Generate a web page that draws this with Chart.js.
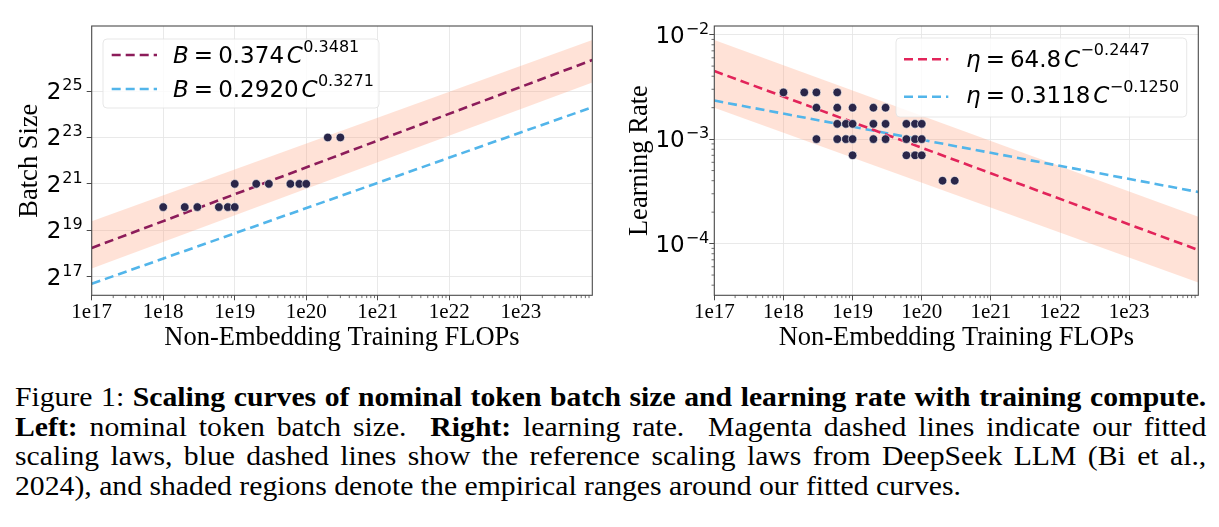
<!DOCTYPE html>
<html>
<head>
<meta charset="utf-8">
<script src="https://cdn.jsdelivr.net/npm/chart.js@4.4.1/dist/chart.umd.min.js"></script>
<style>
  body { margin: 0; background: #fff; width: 1219px; height: 527px; overflow: hidden; position: relative; }
  .panel { position: absolute; top: 0; height: 360px; }
  #leftPanel { left: 0; width: 610px; }
  #rightPanel { left: 610px; width: 609px; }
  #caption { position: absolute; left: 15px; top: 383px; width: 1083px; font-family: "Liberation Serif", serif; font-size: 27px; line-height: 29.5px; color: #000; transform: scaleX(1.1); transform-origin: 0 0; }
  #caption .ln { text-align: justify; text-align-last: justify; word-spacing: -3px; }
  #caption .last { text-align: left; }
</style>
</head>
<body>
<div class="panel" id="leftPanel"><canvas id="chart-bs" width="610" height="360"></canvas></div>
<div class="panel" id="rightPanel"><canvas id="chart-lr" width="609" height="360"></canvas></div>
<div id="caption">
  <div class="ln">Figure 1: <b>Scaling curves of nominal token batch size and learning rate with training compute.</b></div>
  <div class="ln"><b>Left:</b> nominal token batch size. &nbsp;<b>Right:</b> learning rate. &nbsp;Magenta dashed lines indicate our fitted</div>
  <div class="ln">scaling laws, blue dashed lines show the reference scaling laws from DeepSeek LLM (Bi et al.,</div>
  <div class="last">2024), and shaded regions denote the empirical ranges around our fitted curves.</div>
</div>
<script>
// x axis (shared)
const flopTicks = [1e17, 1e18, 1e19, 1e20, 1e21, 1e22, 1e23];
const flopTickLabels = ["1e17", "1e18", "1e19", "1e20", "1e21", "1e22", "1e23"];
const lineEnds = [1e17, 1e24];

// left: batch size
const bsFlops = [1e18, 2e18, 3e18, 6e18, 8e18, 1e19, 1e19, 2e19, 3e19, 6e19, 8e19, 1e20, 2e20, 3e20];
const bsValues = [1048576, 1048576, 1048576, 1048576, 1048576, 1048576, 2097152, 2097152, 2097152, 2097152, 2097152, 2097152, 8388608, 8388608];
const bsTicks = [131072, 524288, 2097152, 8388608, 33554432];
const bsTickExp = ["17", "19", "21", "23", "25"];
const bsLegendCoef = ["0.374", "0.2920"];
const bsLegendExp = ["0.3481", "0.3271"];
const bsBandUpper = [6.87e5, 1.54e8];
const bsBandLower = [1.68e5, 4.31e7];

// right: learning rate
const lrFlops = [1e18, 2e18, 3e18, 6e18,
  3e18, 6e18, 1e19, 2e19, 3e19,
  6e18, 8e18, 1e19, 2e19, 3e19, 6e19, 8e19, 1e20,
  3e18, 6e18, 8e18, 1e19, 2e19, 3e19, 6e19, 8e19, 1e20,
  1e19, 6e19, 8e19, 1e20,
  2e20, 3e20];
const lrValues = [2.8e-3, 2.8e-3, 2.8e-3, 2.8e-3,
  2e-3, 2e-3, 2e-3, 2e-3, 2e-3,
  1.4e-3, 1.4e-3, 1.4e-3, 1.4e-3, 1.4e-3, 1.4e-3, 1.4e-3, 1.4e-3,
  1e-3, 1e-3, 1e-3, 1e-3, 1e-3, 1e-3, 1e-3, 1e-3, 1e-3,
  7e-4, 7e-4, 7e-4, 7e-4,
  4e-4, 4e-4];
const lrTicks = [1e-4, 1e-3, 1e-2];
const lrTickExp = ["\u22124", "\u22123", "\u22122"];
const lrLegendCoef = ["64.8", "0.3118"];
const lrLegendExp = ["\u22120.2447", "\u22120.1250"];
const lrBandUpper = [8.9e-3, 1.81e-4];
const lrBandLower = [2.0e-3, 4.24e-5];

const BLUE = "#52b5ea";
const BAND = "rgba(255,160,122,0.3)";
const DOT = "#2a2649";
const SANS = '"DejaVu Sans"';
const SERIF = '"Liberation Serif"';

const num = s => parseFloat(s.replace("\u2212", "-"));
const fitLine = (c, e) => lineEnds.map(x => ({ x: x, y: num(c) * Math.pow(x, num(e)) }));
const pts = (xs, ys) => xs.map((x, i) => ({ x: x, y: ys[i] }));

function makeDatasets(flops, vals, coefs, exps, up, low, mainColor) {
  return [
    { data: pts(flops, vals), backgroundColor: DOT, borderColor: "#fff", borderWidth: 0.6, pointRadius: 4.3 },
    { data: fitLine(coefs[0], exps[0]), showLine: true, borderColor: mainColor, borderWidth: 2.6, borderDash: [9, 5], pointRadius: 0 },
    { data: fitLine(coefs[1], exps[1]), showLine: true, borderColor: BLUE, borderWidth: 2.6, borderDash: [9, 5], pointRadius: 0 },
    { data: pts(lineEnds, up), showLine: true, borderWidth: 0, pointRadius: 0, backgroundColor: BAND, fill: "+1" },
    { data: pts(lineEnds, low), showLine: true, borderWidth: 0, pointRadius: 0, backgroundColor: "rgba(0,0,0,0)", fill: false },
  ];
}

// legend, frame, minor ticks and power tick labels
function decorPlugin(cfg) {
  return {
    id: "decor",
    afterDatasetsDraw(chart) {
      const ctx = chart.ctx;
      const L = cfg.legend;
      ctx.save();
      ctx.beginPath();
      ctx.roundRect(L.box[0], L.box[1], L.box[2] - L.box[0], L.box[3] - L.box[1], 4);
      ctx.fillStyle = "rgba(255,255,255,0.8)";
      ctx.fill();
      ctx.strokeStyle = "rgba(225,225,225,0.8)";
      ctx.lineWidth = 1;
      ctx.stroke();
      L.rows.forEach((r, i) => {
        ctx.setLineDash([9, 5]);
        ctx.lineWidth = 2.6;
        ctx.strokeStyle = r.color;
        ctx.beginPath();
        ctx.moveTo(L.lineX[0], r.lineY);
        ctx.lineTo(L.lineX[1], r.lineY);
        ctx.stroke();
        ctx.setLineDash([]);
        ctx.fillStyle = "#000";
        ctx.textBaseline = "alphabetic";
        ctx.textAlign = "left";
        const parts = [
          { t: L.sym, it: true },
          { t: "=", g: 0.22 },
          { t: r.coef, g: 0.22 },
          { t: "C", it: true, g: 0.12 },
          { t: r.exp, sup: true, g: 0.02 },
        ];
        let x = L.textX;
        parts.forEach(p => {
          const size = p.sup ? L.supSize : L.size;
          ctx.font = (p.it ? "italic " : "") + size + "px " + SANS;
          x += (p.g || 0) * L.size;
          ctx.fillText(p.t, x, p.sup ? r.base - L.raise : r.base);
          x += ctx.measureText(p.t).width;
        });
      });
      ctx.restore();
    },
    afterDraw(chart) {
      const ctx = chart.ctx;
      const a = chart.chartArea;
      const xs = chart.scales.x, ys = chart.scales.y;
      ctx.save();
      ctx.strokeStyle = "#4a4a4a";
      ctx.lineWidth = 0.8;
      // minor ticks on x
      for (let d = 17; d < 24; d++) {
        for (let k = 2; k <= 9; k++) {
          const px = xs.getPixelForValue(k * Math.pow(10, d));
          ctx.beginPath();
          ctx.moveTo(px, a.bottom);
          ctx.lineTo(px, a.bottom + 2.8);
          ctx.stroke();
        }
      }
      if (cfg.minorY) {
        for (let d = -5; d < -1; d++) {
          for (let k = 2; k <= 9; k++) {
            const v = k * Math.pow(10, d);
            if (v < ys.min || v > ys.max) continue;
            const py = ys.getPixelForValue(v);
            ctx.beginPath();
            ctx.moveTo(a.left, py);
            ctx.lineTo(a.left - 2.8, py);
            ctx.stroke();
          }
        }
      }
      // frame
      ctx.lineWidth = 1.1;
      ctx.strokeRect(a.left, a.top, a.right - a.left, a.bottom - a.top);
      // y tick labels with superscripts
      ctx.fillStyle = "#000";
      ctx.textBaseline = "alphabetic";
      ctx.textAlign = "left";
      cfg.yTicks.forEach((v, i) => {
        const py = ys.getPixelForValue(v);
        ctx.font = cfg.supSize + "px " + SANS;
        const ws = ctx.measureText(cfg.yExp[i]).width;
        ctx.font = cfg.baseSize + "px " + SANS;
        const wb = ctx.measureText(cfg.yBase).width;
        const x0 = a.left - cfg.labelGap - ws - wb;
        ctx.fillText(cfg.yBase, x0, py + 8);
        ctx.font = cfg.supSize + "px " + SANS;
        ctx.fillText(cfg.yExp[i], x0 + wb + 1, py - 1);
      });
      ctx.restore();
    },
  };
}

function makeChart(id, datasets, yMin, yMax, yTicks, yTitle, yWidth, rightPad, decor) {
  return new Chart(document.getElementById(id), {
    type: "scatter",
    data: { datasets: datasets },
    options: {
      responsive: false,
      animation: false,
      layout: { padding: { top: 26, right: rightPad, left: 0, bottom: 0 } },
      plugins: { legend: { display: false }, tooltip: { enabled: false } },
      scales: {
        x: {
          type: "logarithmic",
          min: 1e17,
          max: 1e24,
          afterBuildTicks: s => { s.ticks = flopTicks.map(v => ({ value: v })); },
          afterFit: s => { s.height = 64.7; },
          ticks: {
            autoSkip: false, maxRotation: 0, padding: 0, color: "#000",
            font: { family: SERIF, size: 21, lineHeight: 1.2 },
            callback: (v) => flopTickLabels[flopTicks.indexOf(v)],
          },
          grid: { color: "#e6e6e6", lineWidth: 0.9, tickLength: 5, tickColor: "#4a4a4a", tickWidth: 1 },
          border: { display: false },
          title: { display: true, text: "Non-Embedding Training FLOPs", color: "#000", font: { family: SERIF, size: 26.5, lineHeight: 1.2 }, padding: { top: 0, bottom: 6 } },
        },
        y: {
          type: "logarithmic",
          min: yMin,
          max: yMax,
          afterBuildTicks: s => { s.ticks = yTicks.map(v => ({ value: v })); },
          afterFit: s => { s.width = yWidth; },
          ticks: { display: false },
          grid: { color: "#e6e6e6", lineWidth: 0.9, tickLength: 5, tickColor: "#4a4a4a", tickWidth: 1 },
          border: { display: false },
          title: { display: true, text: yTitle, color: "#000", font: { family: SERIF, size: 26.5, lineHeight: 1.2 }, padding: { top: 14, bottom: 0 } },
        },
      },
    },
    plugins: [decorPlugin(decor)],
  });
}

makeChart("chart-bs",
  makeDatasets(bsFlops, bsValues, bsLegendCoef, bsLegendExp, bsBandUpper, bsBandLower, "#8c1c5a"),
  7.53e4, 2.337e8, bsTicks, "Batch Size", 91.7, 17.7,
  {
    yTicks: bsTicks, yExp: bsTickExp, yBase: "2", baseSize: 23, supSize: 16, labelGap: 10, minorY: false,
    legend: {
      box: [103, 39, 379, 108], lineX: [111.7, 157], textX: 173, sym: "B", size: 23, supSize: 16, raise: 11.5,
      rows: [
        { color: "#8c1c5a", lineY: 55, base: 63.3, coef: bsLegendCoef[0], exp: bsLegendExp[0] },
        { color: BLUE, lineY: 89, base: 97, coef: bsLegendCoef[1], exp: bsLegendExp[1] },
      ],
    },
  });

makeChart("chart-lr",
  makeDatasets(lrFlops, lrValues, lrLegendCoef, lrLegendExp, lrBandUpper, lrBandLower, "#e2245a"),
  3.2e-5, 1.21e-2, lrTicks, "Learning Rate", 104.3, 20.7,
  {
    yTicks: lrTicks, yExp: lrTickExp, yBase: "10", baseSize: 23, supSize: 16, labelGap: 6, minorY: true,
    legend: {
      box: [286, 38, 576.7, 117], lineX: [294, 338.3], textX: 356, sym: "\u03b7", size: 23, supSize: 16, raise: 11.5,
      rows: [
        { color: "#e2245a", lineY: 59.3, base: 66.7, coef: lrLegendCoef[0], exp: lrLegendExp[0] },
        { color: BLUE, lineY: 96.7, base: 103.3, coef: lrLegendCoef[1], exp: lrLegendExp[1] },
      ],
    },
  });
</script>
</body>
</html>
